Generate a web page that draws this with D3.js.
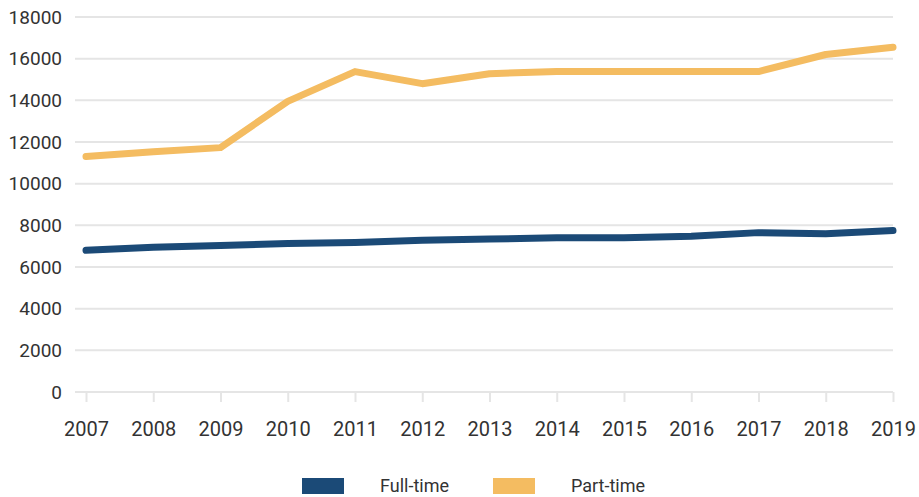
<!DOCTYPE html>
<html>
<head>
<meta charset="utf-8">
<script src="https://cdn.jsdelivr.net/npm/d3@7"></script>
<style>
  body { margin: 0; background: #fff; }
  svg text { font-family: Roboto, "Noto Sans", sans-serif; fill: #333; }
</style>
</head>
<body>
<div id="chart"></div>
<script>
// data
var years = [2007, 2008, 2009, 2010, 2011, 2012, 2013, 2014, 2015, 2016, 2017, 2018, 2019];
var fullTime = [6800, 6950, 7030, 7130, 7180, 7280, 7340, 7400, 7400, 7480, 7650, 7600, 7750];
var partTime = [11300, 11530, 11730, 13950, 15380, 14800, 15280, 15380, 15380, 15380, 15380, 16200, 16550];
var yTicks = [0, 2000, 4000, 6000, 8000, 10000, 12000, 14000, 16000, 18000];
var seriesNames = ["Full-time", "Part-time"];
var colors = ["#1b4a77", "#f4bc61"];

var svgWidth = 919, svgHeight = 497;
var margin = {top: 17, right: 26, bottom: 105, left: 75};
var width = svgWidth - margin.left - margin.right;
var height = svgHeight - margin.top - margin.bottom;

var svg = d3.select("#chart")
  .append("svg")
  .attr("width", svgWidth)
  .attr("height", svgHeight);

var chartGroup = svg.append("g")
  .attr("transform", `translate(${margin.left}, ${margin.top})`);

var xScale = d3.scalePoint()
  .domain(years)
  .range([11, width]);

var yScale = d3.scaleLinear()
  .domain([0, 18000])
  .range([height, 0]);

// gridlines
chartGroup.selectAll(".grid")
  .data(yTicks)
  .enter()
  .append("line")
  .attr("x1", 0)
  .attr("x2", width)
  .attr("y1", d => yScale(d))
  .attr("y2", d => yScale(d))
  .attr("stroke", "#e5e5e5")
  .attr("stroke-width", 2);

// y labels
chartGroup.selectAll(".ylab")
  .data(yTicks)
  .enter()
  .append("text")
  .attr("x", -13)
  .attr("y", d => yScale(d))
  .attr("dy", "0.35em")
  .attr("text-anchor", "end")
  .style("font-size", "19px")
  .text(d => d);

// x axis ticks + labels
var xAxis = d3.axisBottom(xScale).tickSize(10).tickPadding(20);
var xg = chartGroup.append("g")
  .attr("transform", `translate(0, ${height})`)
  .call(xAxis);
xg.select(".domain").remove();
xg.selectAll(".tick line").attr("stroke", "#e5e5e5").attr("stroke-width", 2);
xg.selectAll(".tick text").style("font-size", "20px").attr("fill", "#333");

// lines
var line = d3.line()
  .x((d, i) => xScale(years[i]))
  .y(d => yScale(d));

[fullTime, partTime].forEach(function(series, i) {
  chartGroup.append("path")
    .datum(series)
    .attr("d", line)
    .attr("fill", "none")
    .attr("stroke", colors[i])
    .attr("stroke-width", 7)
    .attr("stroke-linecap", "round")
    .attr("stroke-linejoin", "round");
});

// legend
var legend = svg.append("g");
var legendX = [302, 493];
seriesNames.forEach(function(name, i) {
  legend.append("rect")
    .attr("x", legendX[i])
    .attr("y", 478)
    .attr("width", 42)
    .attr("height", 16)
    .attr("fill", colors[i]);
  legend.append("text")
    .attr("x", legendX[i] + 78)
    .attr("y", 486)
    .attr("dy", "0.35em")
    .style("font-size", "18px")
    .text(name);
});
</script>
</body>
</html>
